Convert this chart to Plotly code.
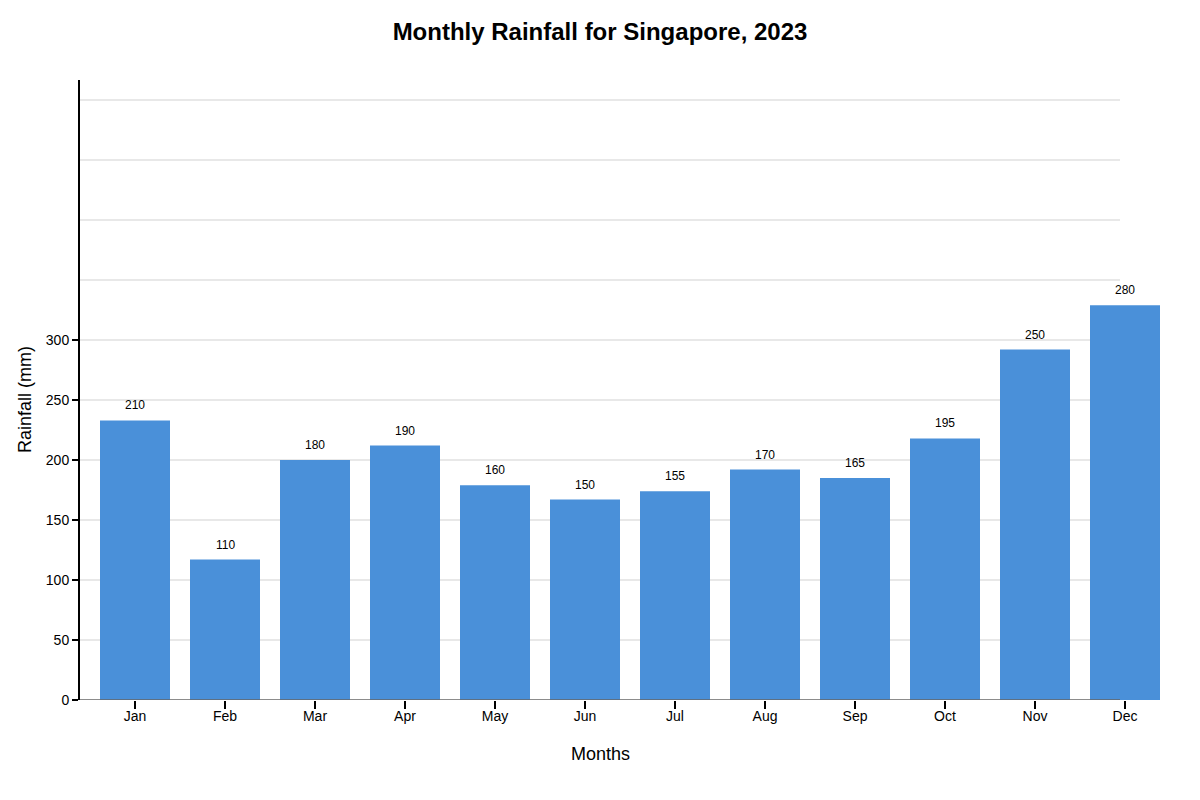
import plotly.graph_objects as go

# data
months = ["Jan", "Feb", "Mar", "Apr", "May", "Jun",
          "Jul", "Aug", "Sep", "Oct", "Nov", "Dec"]
bar_heights = [233, 117, 200, 212, 179, 167, 174, 192, 185, 218, 292, 329]
rainfall_labels = [210, 110, 180, 190, 160, 150, 155, 170, 165, 195, 250, 280]
y_ticks = [0, 50, 100, 150, 200, 250, 300]
grid_values = [50, 100, 150, 200, 250, 300, 350, 400, 450, 500]

FONT = "Liberation Sans, Arial, sans-serif"
GRID_END = (1120 - 80) / 1090  # grid and baseline stop short of the last bar
PAGE_PAD = 8  # the html body margin shifts the figure by 8px

fig = go.Figure()

fig.add_trace(go.Bar(
    x=months,
    y=bar_heights,
    width=70 / 90,
    marker=dict(color="#4a90d9", line=dict(width=0)),
    hoverinfo="skip",
))

# grid lines
for v in grid_values:
    fig.add_shape(type="line", xref="paper", yref="y",
                  x0=0, x1=GRID_END, y0=v, y1=v,
                  line=dict(color="#e0e0e0", width=1.5), layer="below")

# x baseline
fig.add_shape(type="line", xref="paper", yref="y",
              x0=0, x1=GRID_END, y0=0, y1=0,
              line=dict(color="#666666", width=1.5), layer="above")

# value labels above bars
for m, h, lab in zip(months, bar_heights, rainfall_labels):
    fig.add_annotation(x=m, y=h, text=str(lab), showarrow=False,
                       yanchor="bottom", yshift=6,
                       font=dict(family=FONT, size=12, color="#000"))

# axis titles
fig.add_annotation(xref="paper", yref="paper", x=(600 - 80) / 1090, y=(700 - 754) / 620,
                   text="Months", showarrow=False, xanchor="center", yanchor="middle",
                   font=dict(family=FONT, size=18, color="#000"))
fig.add_annotation(xref="paper", yref="paper", x=(25 - 80) / 1090, y=(700 - 400) / 620,
                   text="Rainfall (mm)", showarrow=False, textangle=-90,
                   xanchor="center", yanchor="middle",
                   font=dict(family=FONT, size=18, color="#000"))

fig.update_layout(
    width=1200 - PAGE_PAD,
    height=800 - PAGE_PAD,
    margin=dict(l=80 - PAGE_PAD, r=30, t=80 - PAGE_PAD, b=100),
    title=dict(text="<b>Monthly Rainfall for Singapore, 2023</b>",
               x=(600 - PAGE_PAD) / (1200 - PAGE_PAD), xanchor="center",
               y=1 - (32 - PAGE_PAD) / (800 - PAGE_PAD), yanchor="middle",
               font=dict(family=FONT, size=24, color="#000")),
    plot_bgcolor="white",
    paper_bgcolor="white",
    showlegend=False,
    bargap=0.2222,
    xaxis=dict(type="category", range=[-0.6111, 11.5],
               showline=False, showgrid=False, zeroline=False,
               ticks="outside", ticklen=8, tickwidth=2, tickcolor="#000",
               ticklabelstandoff=-5,
               tickfont=dict(family=FONT, size=14, color="#000")),
    yaxis=dict(range=[0, 516.67], tickvals=y_ticks,
               showline=True, linecolor="#000", linewidth=2,
               showgrid=False, zeroline=False,
               ticks="outside", ticklen=6, tickwidth=2, tickcolor="#000",
               tickfont=dict(family=FONT, size=14, color="#000")),
)

fig.write_html("out.html")
